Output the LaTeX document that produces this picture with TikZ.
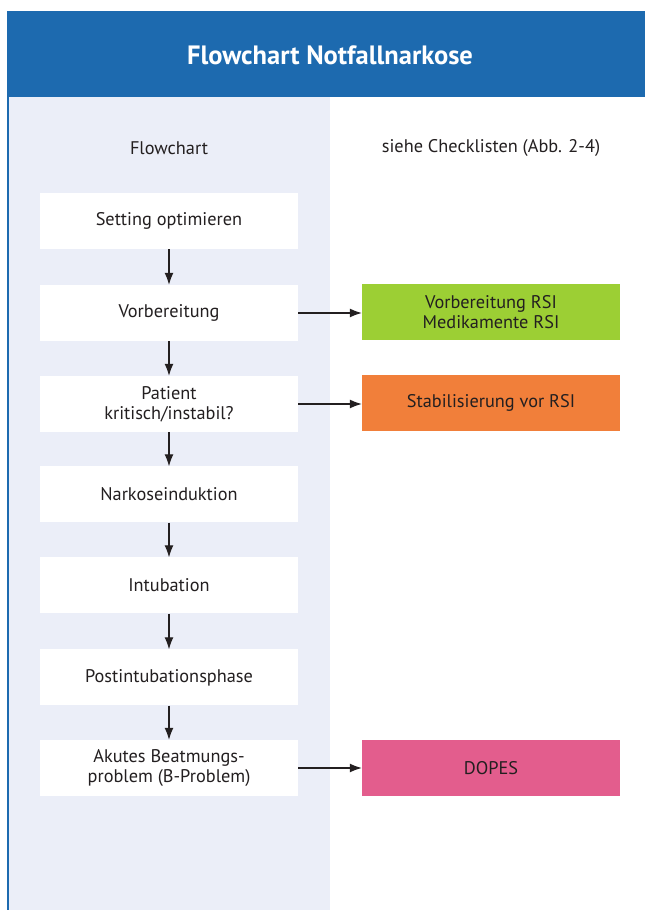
\documentclass[tikz,border=0pt]{standalone}
\usepackage{fontspec}
\setmainfont{PT Sans}
\usepackage{xcolor}
\usetikzlibrary{arrows.meta, positioning}
\definecolor{ink}{HTML}{231F20}
\definecolor{headBlue}{HTML}{1D6AAF}
\definecolor{paneA}{HTML}{EBEEF8}
\definecolor{greenC}{HTML}{9CCF34}
\definecolor{orangeC}{HTML}{F17F3A}
\definecolor{pinkC}{HTML}{E35D8D}
\tikzset{
  title/.style={font=\bfseries\fontsize{26.5}{30}\selectfont, text=white},
  label/.style={font=\fontsize{18.3}{20}\selectfont, text=ink},
  stepbox/.style={fill=white, minimum width=258pt, minimum height=56pt, inner sep=0pt, align=center, font=\fontsize{18.3}{20}\selectfont, text=ink},
  greenbox/.style={stepbox, fill=greenC},
  orangebox/.style={stepbox, fill=orangeC},
  pinkbox/.style={stepbox, fill=pinkC},
  flow/.style={-{Latex[length=12pt,width=9pt]}, line width=1.1pt, draw=ink}
}

\begin{document}
\begin{tikzpicture}[x=1pt,y=1pt]
\useasboundingbox (0,0) rectangle (645,910);

% header and left pane
\fill[headBlue] (7,899) rectangle (645,813);
\fill[paneA] (9,813) rectangle (330,0);
\draw[headBlue, line width=1.5pt] (7.75,813) -- (7.75,0);
\node[title] (head) at (330,855) {Flowchart Notfallnarkose};

\node[label] (colL) at (169,762) {Flowchart};
\node[label] (colR) at (491,762) {siehe Checklisten (Abb. 2-4)};

% flowchart steps
\node[stepbox] (setting) at (169,689) {Setting optimieren};
\node[stepbox] (vorb) at (169,597) {Vorbereitung};
\node[stepbox] (patient) at (169,506) {Patient\\kritisch/instabil?};
\node[stepbox] (induktion) at (169,415.5) {Narkoseinduktion};
\node[stepbox] (intub) at (169,324.5) {Intubation};
\node[stepbox] (post) at (169,232.5) {Postintubationsphase};
\node[stepbox] (bprob) at (169,142) {Akutes Beatmungs-\\problem (B-Problem)};

% checklists
\node[greenbox] (rsi) at (491,598) {Vorbereitung RSI\\Medikamente RSI};
\node[orangebox] (stab) at (491,507) {Stabilisierung vor RSI};
\node[pinkbox] (dopes) at (491,142) {DOPES};

\draw[flow] (setting) -- (vorb);
\draw[flow] (vorb) -- (patient);
\draw[flow] (patient) -- (induktion);
\draw[flow] (induktion) -- (intub);
\draw[flow] (intub) -- (post);
\draw[flow] (post) -- (bprob);

\draw[flow] (vorb.east) -- (rsi.west |- vorb.east);
\draw[flow] (patient.east) -- (stab.west |- patient.east);
\draw[flow] (bprob.east) -- (dopes.west);

\end{tikzpicture}
\end{document}
